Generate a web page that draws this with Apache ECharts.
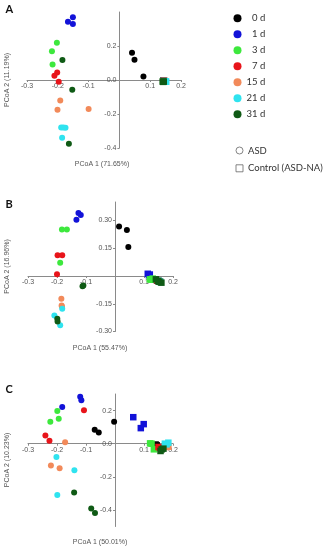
<!DOCTYPE html>
<html><head><meta charset="utf-8">
<script src="https://cdn.jsdelivr.net/npm/echarts@6/dist/echarts.min.js"></script>
<style>html,body{margin:0;padding:0;background:#fff}#c{width:325px;height:550px}</style>
</head><body><div id="c"></div>
<script>
const DAYS = ['0 d','1 d','3 d','7 d','15 d','21 d','31 d'];
const GROUPS = ['ASD','Control (ASD-NA)'];
const PANELS = ['A','B','C'];
const X_TITLES = ['PCoA 1 (71.65%)','PCoA 1 (55.47%)','PCoA 1 (50.01%)'];
const Y_TITLES = ['PCoA 2 (11.19%)','PCoA 2 (16.96%)','PCoA 2 (10.23%)'];

const A_X_TICKS = [-0.3,-0.2,-0.1,0.1,0.2];
const A_Y_TICKS = [0.2,0,-0.2,-0.4];
const B_X_TICKS = [-0.3,-0.2,-0.1,0.1,0.2];
const B_Y_TICKS = [0.30,0.15,-0.15,-0.30];
const C_X_TICKS = [-0.3,-0.2,-0.1,0.1,0.2];
const C_Y_TICKS = [0.2,0,-0.2,-0.4];

// points per day (index follows DAYS)
const A_ASD = [
  [[0.041,0.16],[0.049,0.119],[0.078,0.021]],
  [[-0.151,0.369],[-0.167,0.342],[-0.151,0.33]],
  [[-0.203,0.219],[-0.219,0.169],[-0.217,0.091]],
  [[-0.202,0.044],[-0.211,0.025],[-0.197,-0.011]],
  [[-0.192,-0.121],[-0.201,-0.175],[-0.1,-0.17]],
  [[-0.189,-0.279],[-0.175,-0.281],[-0.182,-0.28],[-0.186,-0.34]],
  [[-0.185,0.117],[-0.153,-0.058],[-0.164,-0.375]]
];
const A_CTRL = [
  [[0.142,-0.006],[0.145,-0.008],[0.143,-0.004]],
  [[0.143,-0.005],[0.146,-0.007],[0.144,-0.006]],
  [[0.144,-0.006],[0.147,-0.008],[0.142,-0.007]],
  [[0.143,-0.007],[0.146,-0.006],[0.145,-0.008]],
  [[0.144,-0.008],[0.147,-0.006],[0.143,-0.006]],
  [[0.15,-0.008],[0.152,-0.01],[0.148,-0.007]],
  [[0.141,-0.01],[0.144,-0.009],[0.142,-0.011]]
];
const B_ASD = [
  [[0.014,0.267],[0.041,0.249],[0.046,0.157]],
  [[-0.126,0.34],[-0.118,0.33],[-0.133,0.304]],
  [[-0.183,0.251],[-0.166,0.251],[-0.189,0.072]],
  [[-0.198,0.112],[-0.182,0.112],[-0.2,0.009]],
  [[-0.185,-0.123],[-0.184,-0.159],[-0.183,-0.165]],
  [[-0.182,-0.177],[-0.209,-0.213],[-0.189,-0.266]],
  [[-0.109,-0.051],[-0.112,-0.056],[-0.199,-0.231],[-0.198,-0.246]]
];
const B_CTRL = [
  [[0.145,-0.025],[0.15,-0.028],[0.155,-0.03]],
  [[0.113,0.012],[0.12,0.008],[0.117,0.004]],
  [[0.12,-0.018],[0.13,-0.014],[0.125,-0.02]],
  [[0.145,-0.022],[0.15,-0.026],[0.153,-0.03]],
  [[0.148,-0.024],[0.152,-0.028],[0.156,-0.032]],
  [[0.15,-0.025],[0.154,-0.03],[0.157,-0.033]],
  [[0.141,-0.018],[0.149,-0.027],[0.153,-0.031],[0.16,-0.036]]
];
const C_ASD = [
  [[-0.003,0.132],[-0.07,0.084],[-0.056,0.068]],
  [[-0.12,0.284],[-0.116,0.262],[-0.182,0.222]],
  [[-0.199,0.198],[-0.194,0.15],[-0.223,0.132]],
  [[-0.107,0.202],[-0.24,0.05],[-0.226,0.018]],
  [[-0.172,0.008],[-0.221,-0.132],[-0.191,-0.148]],
  [[-0.202,-0.08],[-0.14,-0.16],[-0.199,-0.31]],
  [[-0.141,-0.294],[-0.082,-0.392],[-0.069,-0.418]]
];
const C_CTRL = [
  [[0.144,-0.01],[0.149,-0.024],[0.14,-0.005]],
  [[0.063,0.16],[0.099,0.118],[0.089,0.094]],
  [[0.121,0.002],[0.126,0],[0.134,-0.034]],
  [[0.15,-0.02],[0.155,-0.025],[0.158,-0.03]],
  [[0.184,-0.018],[0.18,-0.012],[0.176,-0.02]],
  [[0.172,0],[0.184,0.006],[0.178,-0.004]],
  [[0.161,-0.034],[0.167,-0.03],[0.157,-0.044]]
];

const COLORS = ['#000000','#1212d8','#3de83d','#e8141a','#f28a5a','#2fe3ef','#0f5a15'];
const chart = echarts.init(document.getElementById('c'), null, {renderer:'canvas'});

const panelsData = [[A_ASD,A_CTRL],[B_ASD,B_CTRL],[C_ASD,C_CTRL]];
const grids = [
  {left:27, top:12, width:154, height:136},
  {left:28, top:202, width:145, height:129.5},
  {left:28, top:394, width:145, height:132.5}
];
const ranges = [
  {xmin:-0.3,xmax:0.2,ymin:-0.4,ymax:0.4,xt:A_X_TICKS,yt:A_Y_TICKS,yd:1},
  {xmin:-0.3,xmax:0.2,ymin:-0.3,ymax:0.4,xt:B_X_TICKS,yt:B_Y_TICKS,yd:2},
  {xmin:-0.3,xmax:0.2,ymin:-0.5,ymax:0.3,xt:C_X_TICKS,yt:C_Y_TICKS,yd:1}
];
const axisCol = '#8a8a8a', labCol = '#555';
const labelFont = {color:labCol, fontSize:7, fontFamily:'Liberation Sans, Arial, sans-serif'};

// axes cross at the origin: shift each axis from the grid edge to zero
const xAxes = ranges.map((r,i)=>({
  type:'value', gridIndex:i, min:r.xmin, max:r.xmax, position:'bottom',
  offset: -grids[i].height * (0 - r.ymin) / (r.ymax - r.ymin),
  axisLine:{show:true, onZero:false, lineStyle:{color:axisCol, width:1}},
  axisTick:{show:true, length:2, customValues:r.xt, lineStyle:{color:axisCol}},
  axisLabel:Object.assign({customValues:r.xt, margin:3, formatter:v=>v.toFixed(1)}, labelFont),
  splitLine:{show:false}
}));
const yAxes = ranges.map((r,i)=>({
  type:'value', gridIndex:i, min:r.ymin, max:r.ymax, position:'left',
  offset: -grids[i].width * (0 - r.xmin) / (r.xmax - r.xmin),
  axisLine:{show:true, onZero:false, lineStyle:{color:axisCol, width:1}},
  axisTick:{show:true, length:2, customValues:r.yt, lineStyle:{color:axisCol}},
  axisLabel:Object.assign({customValues:r.yt, margin:3, formatter:v=>v.toFixed(r.yd)}, labelFont),
  splitLine:{show:false}
}));

const series = [];
panelsData.forEach((pd,p)=>{
  DAYS.forEach((d,k)=>{
    const data = pd[0][k].map(v=>({value:v}))
      .concat(pd[1][k].map(v=>({value:v, symbol:'rect', symbolSize:6.5})));
    series.push({
      type:'scatter', name:d, xAxisIndex:p, yAxisIndex:p,
      symbol:'circle', symbolSize:6, data:data,
      itemStyle:{color:COLORS[k], opacity:1}, silent:true, z:2+k*0.01
    });
  });
});
GROUPS.forEach((g,i)=>{
  series.push({type:'scatter', name:g, xAxisIndex:0, yAxisIndex:0, data:[],
    symbol:i===0?'circle':'rect',
    itemStyle:{color:'#fff', borderColor:'#666', borderWidth:1}});
});

const legendText = {color:'#333', fontSize:9.5, fontFamily:'Lato, "Noto Sans", sans-serif'};
const option = {
  animation:false,
  grid:grids,
  xAxis:xAxes,
  yAxis:yAxes,
  legend:[
    {orient:'vertical', left:233.5, top:13.3, padding:0, itemWidth:8, itemHeight:8, itemGap:6,
     textStyle:legendText, selectedMode:false,
     formatter:n=>(n.length<4?'\u2007':'')+n,
     data:DAYS.map((d,k)=>({name:d, icon:'circle', itemStyle:{color:COLORS[k]}}))},
    {orient:'vertical', left:235.5, top:145.5, padding:0, itemWidth:7, itemHeight:7, itemGap:7.8,
     textStyle:legendText, selectedMode:false,
     data:[{name:GROUPS[0], icon:'circle', itemStyle:{color:'#fff', borderColor:'#666', borderWidth:1}},
           {name:GROUPS[1], icon:'rect', itemStyle:{color:'#fff', borderColor:'#666', borderWidth:1}}]}
  ],
  graphic:[
    ...PANELS.map((t,i)=>({type:'text', left:5.5, top:[4,199,384][i],
      style:{text:t, font:'bold 11px Lato, "Noto Sans", sans-serif', fill:'#111'}})),
    ...X_TITLES.map((t,i)=>({type:'text', x:[102,100,100][i], y:[164,348.5,542.5][i],
      style:{text:t, fontSize:7, fontFamily:'Liberation Sans, Arial, sans-serif', fill:labCol, align:'center', verticalAlign:'middle'}})),
    ...Y_TITLES.map((t,i)=>({type:'text', x:7, y:[80,266.5,460][i], rotation:Math.PI/2,
      style:{text:t, fontSize:7, fontFamily:'Liberation Sans, Arial, sans-serif', fill:labCol, align:'center', verticalAlign:'middle'}}))
  ],
  series:series
};
chart.setOption(option);
</script></body></html>
